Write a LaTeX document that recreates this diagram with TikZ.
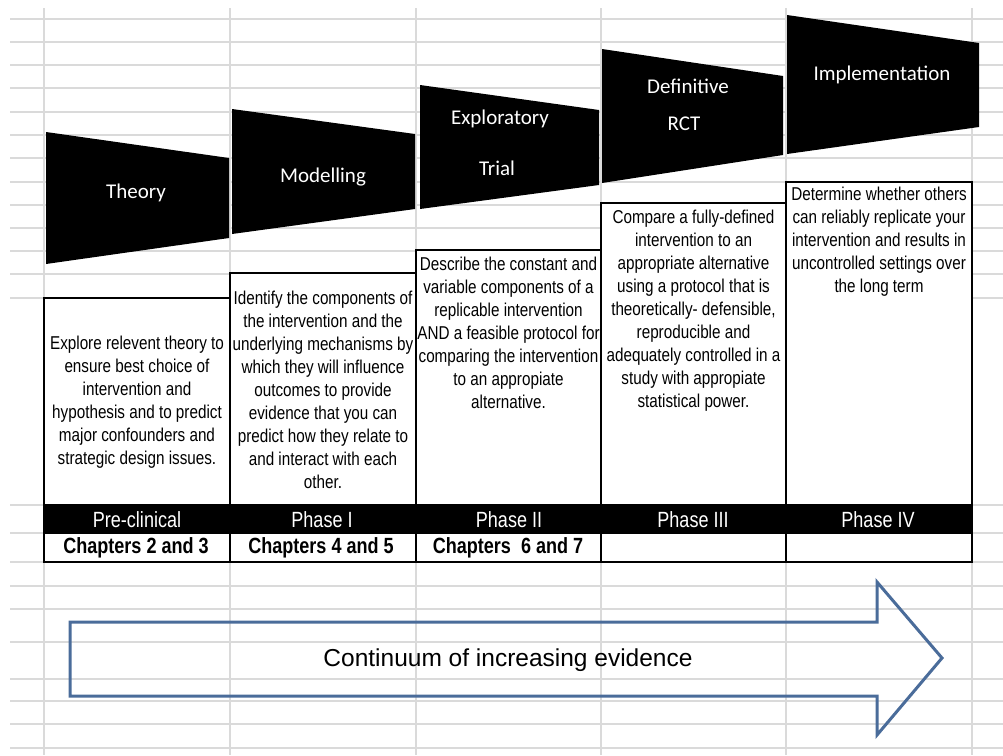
\documentclass[tikz,border=0pt]{standalone}
\usepackage{fontspec}
\setmainfont{Liberation Sans}
\newfontfamily\narrow[FakeStretch=0.82]{Liberation Sans}
\newfontfamily\calib{Carlito}
\definecolor{gridc}{RGB}{218,218,218}
\definecolor{arrowc}{RGB}{74,108,154}
\tikzset{
  gridline/.style={draw=gridc, line width=1.3pt},
  stagebox/.style={fill=black},
  stagelabel/.style={text=white, font=\calib\fontsize{21}{24}\selectfont, inner sep=0pt},
  descbox/.style={draw=black, fill=white, line width=1.8pt},
  desctext/.style={text=black, align=center, inner sep=0pt, font=\narrow\fontsize{18.6}{23}\selectfont},
  phaselabel/.style={text=white, inner sep=0pt, font=\narrow\fontsize{22}{24}\selectfont},
  chaplabel/.style={text=black, inner sep=0pt, font=\narrow\bfseries\fontsize{22}{24}\selectfont},
  evarrow/.style={draw=arrowc, line width=3pt, line join=miter},
}
\begin{document}
\begin{tikzpicture}[x=1pt,y=-1pt]
\useasboundingbox (0,0) rectangle (1003,755);
\fill[white] (0,0) rectangle (1003,755);
% spreadsheet grid
\foreach \y in {19,42,65,88,112,135,158,182,205,228,251,274,298,505,533,562,586,609,642,679,701,724,748}
  \draw[gridline] (10,\y) -- (1003,\y);
\foreach \x in {44,230,416,601,786,972}
  \draw[gridline] (\x,8) -- (\x,755);
% stage shapes
\fill[stagebox] (46,132) -- (229,158) -- (229,238) -- (46,264) -- cycle;
\fill[stagebox] (232,109) -- (415,134) -- (415,209) -- (232,234) -- cycle;
\fill[stagebox] (420,85) -- (599,110) -- (599,185) -- (420,209) -- cycle;
\fill[stagebox] (602,49) -- (783,76) -- (783,155) -- (602,183) -- cycle;
\fill[stagebox] (787,15) -- (979,43) -- (979,127) -- (787,154) -- cycle;
\node[stagelabel] (theory) at (136,193) {Theory};
\node[stagelabel] (model) at (323,177) {Modelling};
\node[stagelabel] (explo) at (500,119) {Exploratory};
\node[stagelabel] (trial) at (497,168) {Trial};
\node[stagelabel] (defin) at (688,86) {Definitive};
\node[stagelabel] (rct) at (684,124) {RCT};
\node[stagelabel] (impl) at (882,75) {Implementation};
% description boxes
\draw[descbox] (44,298) rectangle (230,505);
\draw[descbox] (230,273) rectangle (416,505);
\draw[descbox] (416,250) rectangle (601,505);
\draw[descbox] (601,203) rectangle (786,505);
\draw[descbox] (786,182) rectangle (972,505);
\node[desctext] (d1) at (137,402) {Explore relevent theory to\\ensure best choice of\\intervention and\\hypothesis and to predict\\major confounders and\\strategic design issues.};
\node[desctext] (d2) at (323,390) {Identify the components of\\the intervention and the\\underlying mechanisms by\\which they will influence\\outcomes to provide\\evidence that you can\\predict how they relate to\\and interact with each\\other.};
\node[desctext] (d3) at (508.5,333) {Describe the constant and\\variable components of a\\replicable intervention\\AND a feasible protocol for\\comparing the intervention\\to an appropiate\\alternative.};
\node[desctext] (d4) at (693.5,310.5) {Compare a fully-defined\\intervention to an\\appropriate alternative\\using a protocol that is\\theoretically- defensible,\\reproducible and\\adequately controlled in a\\study with appropiate\\statistical power.};
\node[desctext] (d5) at (879,241.5) {Determine whether others\\can reliably replicate your\\intervention and results in\\uncontrolled settings over\\the long term};
% phase bar and chapters row
\fill[black] (43,505) rectangle (973,533);
\draw[descbox] (44,533) rectangle (972,562);
\foreach \x in {230,416,601,786}
  \draw[black, line width=1.8pt] (\x,533) -- (\x,562);
\node[phaselabel] (p0) at (137,520) {Pre-clinical};
\node[phaselabel] (p1) at (322,520) {Phase I};
\node[phaselabel] (p2) at (509,520) {Phase II};
\node[phaselabel] (p3) at (693,520) {Phase III};
\node[phaselabel] (p4) at (878,520) {Phase IV};
\node[chaplabel] (c0) at (136,548) {Chapters 2 and 3};
\node[chaplabel] (c1) at (321,548) {Chapters 4 and 5};
\node[chaplabel] (c2) at (508,548) {Chapters\ \ 6 and 7};
% evidence arrow
\draw[evarrow] (70,622) -- (877,622) -- (877,582) -- (942,658) -- (877,735) -- (877,696) -- (70,696) -- cycle;
\node[inner sep=0pt, font=\fontsize{24.5}{28}\selectfont] (cont) at (508,660) {Continuum of increasing evidence};
\end{tikzpicture}
\end{document}
